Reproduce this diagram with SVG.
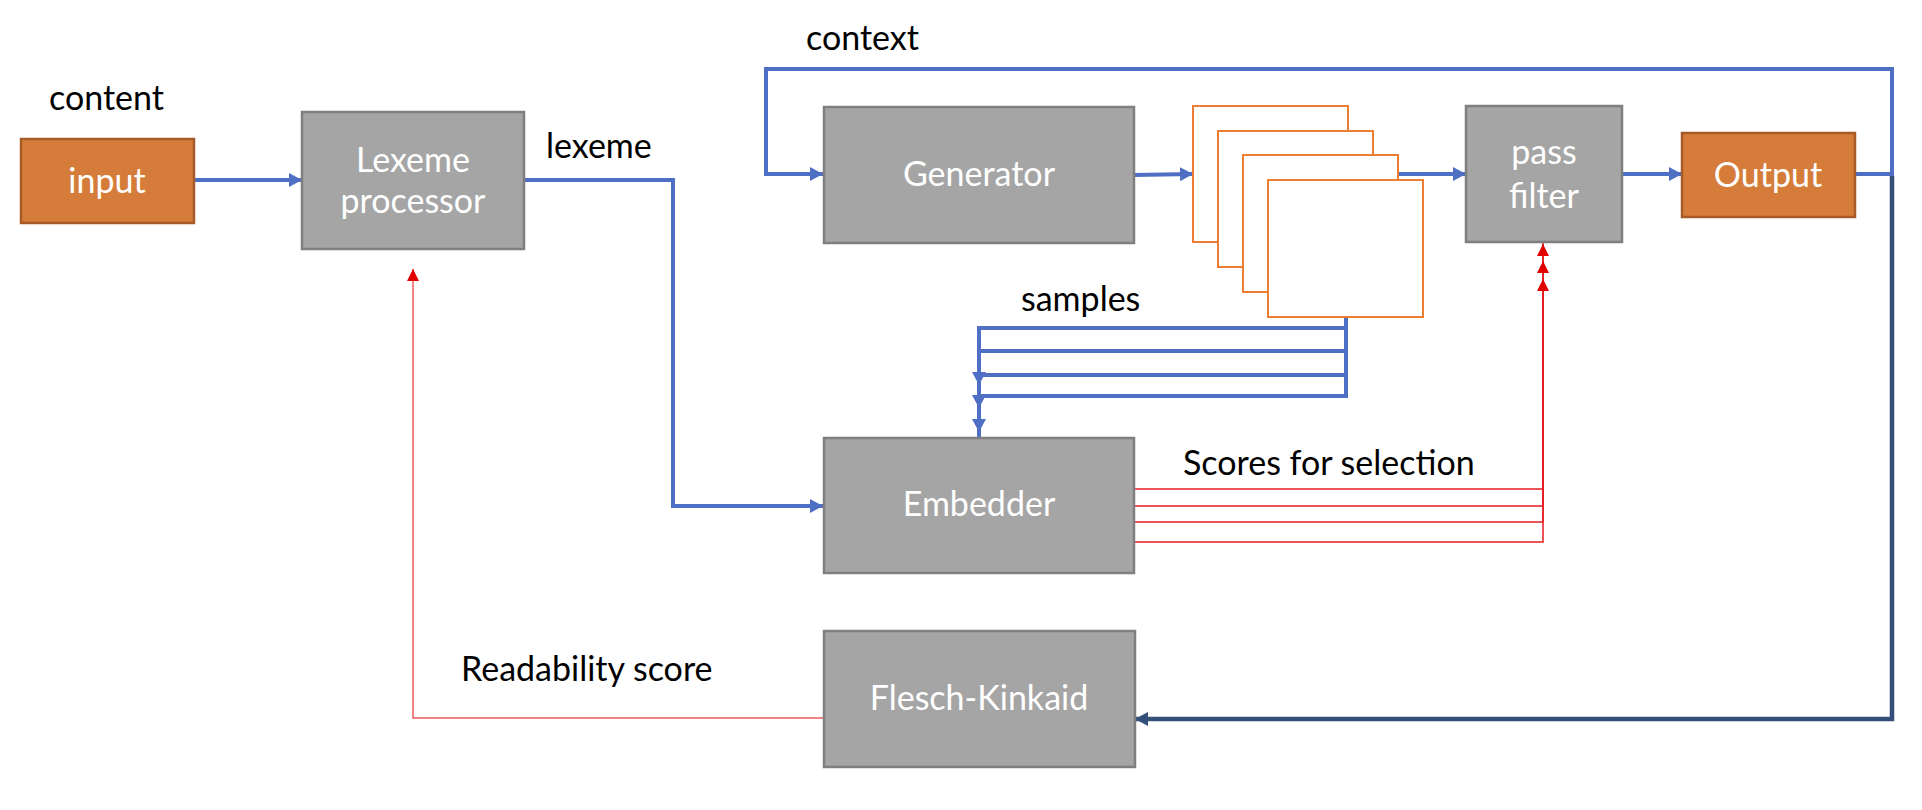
<svg xmlns="http://www.w3.org/2000/svg" width="1922" height="810" viewBox="0 0 1922 810">
<style>
  .lbl { font-family: Lato, "Liberation Sans", sans-serif; font-size: 34px; fill: #000; }
  .btxt { font-family: Lato, "Liberation Sans", sans-serif; font-size: 34px; fill: #fff; text-anchor: middle; }
  .gray { fill: #A5A5A5; stroke: #7F7F7F; stroke-width: 2.5; }
  .orange { fill: #D67C3A; stroke: #A65B28; stroke-width: 2.5; }
  .stack { fill: #fff; stroke: #ED7D31; stroke-width: 2; }
  .blue { fill: none; stroke: #4F6FC4; stroke-width: 4; }
  .navy { fill: none; stroke: #34507A; stroke-width: 4.5; }
  .red { fill: none; stroke: #E41E20; stroke-width: 1.5; }
  .redl { fill: none; stroke: #EF5A5E; stroke-width: 1.5; }
</style>
<defs>
  <marker id="ab" markerUnits="userSpaceOnUse" markerWidth="14" markerHeight="14" refX="13" refY="7" orient="auto">
    <path d="M0,0 L13,7 L0,14 z" fill="#4F6FC4"/>
  </marker>
  <marker id="an" markerUnits="userSpaceOnUse" markerWidth="14" markerHeight="14" refX="13" refY="7" orient="auto">
    <path d="M0,0 L13,7 L0,14 z" fill="#34507A"/>
  </marker>
  <marker id="ar" markerUnits="userSpaceOnUse" markerWidth="13" markerHeight="12" refX="12" refY="6" orient="auto">
    <path d="M0,0 L12,6 L0,12 z" fill="#E00000"/>
  </marker>
</defs>
<rect width="1922" height="810" fill="#fff"/>

<g id="connectors">
  <path class="blue" d="M194,180 H302" marker-end="url(#ab)"/>
  <path class="blue" d="M524,180 H673 V506 H823" marker-end="url(#ab)"/>
  <path class="blue" d="M1134,175 L1193,174" marker-end="url(#ab)"/>
  <path class="blue" d="M1398,174 H1466" marker-end="url(#ab)"/>
  <path class="blue" d="M1622,174 H1682" marker-end="url(#ab)"/>
  <path class="blue" d="M1855,174 H1892 V69 H766 V174 H823" marker-end="url(#ab)"/>
  <path class="navy" d="M1892,176 V719 H1135" marker-end="url(#an)"/>
  <path class="blue" d="M1346,317 V328 H979 V385" marker-end="url(#ab)"/>
  <path class="blue" d="M1346,317 V351 H979 V408" marker-end="url(#ab)"/>
  <path class="blue" d="M1346,317 V375 H979 V432" marker-end="url(#ab)"/>
  <path class="blue" d="M1346,317 V396 H979 V455" marker-end="url(#ab)"/>
  <path class="red" d="M1134,489 H1543 V226" marker-end="url(#ar)"/>
  <path class="red" d="M1134,506 H1543 V244" marker-end="url(#ar)"/>
  <path class="red" d="M1134,522 H1543 V261" marker-end="url(#ar)"/>
  <path class="red" d="M1134,542 H1543 V279" marker-end="url(#ar)"/>
  <path class="redl" d="M823,718 H413 V269" marker-end="url(#ar)"/>
</g>

<g id="input">
  <rect class="orange" x="21" y="139" width="173" height="84"/>
  <text class="btxt" x="107" y="193">input</text>
</g>
<g id="lexeme-processor">
  <rect class="gray" x="302" y="112" width="222" height="137"/>
  <text class="btxt" x="413" y="172">Lexeme</text>
  <text class="btxt" x="413" y="213">processor</text>
</g>
<g id="generator">
  <rect class="gray" x="824" y="107" width="310" height="136"/>
  <text class="btxt" x="979" y="186">Generator</text>
</g>
<g id="samples-stack">
  <rect class="stack" x="1193" y="106" width="155" height="136"/>
  <rect class="stack" x="1218" y="131" width="155" height="136"/>
  <rect class="stack" x="1243" y="155" width="155" height="137"/>
  <rect class="stack" x="1268" y="180" width="155" height="137"/>
</g>
<g id="pass-filter">
  <rect class="gray" x="1466" y="106" width="156" height="136"/>
  <text class="btxt" x="1544" y="164">pass</text>
  <text class="btxt" x="1544" y="208">filter</text>
</g>
<g id="output">
  <rect class="orange" x="1682" y="133" width="173" height="84"/>
  <text class="btxt" x="1768" y="187">Output</text>
</g>
<g id="embedder">
  <rect class="gray" x="824" y="438" width="310" height="135"/>
  <text class="btxt" x="979" y="516">Embedder</text>
</g>
<g id="flesch-kinkaid">
  <rect class="gray" x="824" y="631" width="311" height="136"/>
  <text class="btxt" x="979" y="710">Flesch-Kinkaid</text>
</g>

<g id="labels">
  <text class="lbl" x="49" y="110">content</text>
  <text class="lbl" x="546" y="158">lexeme</text>
  <text class="lbl" x="806" y="50">context</text>
  <text class="lbl" x="1021" y="311">samples</text>
  <text class="lbl" x="1183" y="475">Scores for selection</text>
  <text class="lbl" x="461" y="681">Readability score</text>
</g>
</svg>
